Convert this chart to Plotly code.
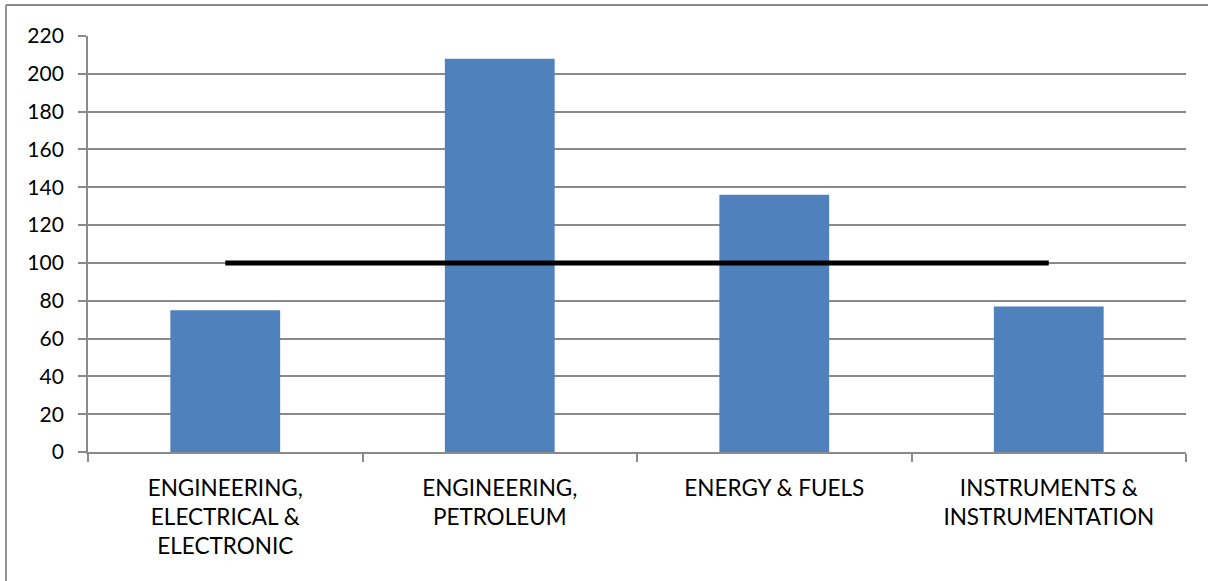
import plotly.graph_objects as go

categories = ["ENGINEERING,<br>ELECTRICAL &<br>ELECTRONIC", "ENGINEERING,<br>PETROLEUM",
              "ENERGY & FUELS", "INSTRUMENTS &<br>INSTRUMENTATION"]
values = [75, 208, 136, 77]
baseline = [100, 100, 100, 100]
y_ticks = [0, 20, 40, 60, 80, 100, 120, 140, 160, 180, 200, 220]

GRID = "#8a8a8a"
PW, PH = 1098, 416  # plot area size in px

fig = go.Figure()
fig.add_trace(go.Bar(x=categories, y=values, marker=dict(color="#4F81BD", line=dict(width=0)),
                     showlegend=False, hoverinfo="x+y"))
fig.add_trace(go.Scatter(x=categories, y=baseline, mode="lines",
                         line=dict(color="black", width=5), showlegend=False))

fig.update_layout(
    width=1208, height=581,
    margin=dict(l=88, r=22, t=36, b=129),
    paper_bgcolor="white", plot_bgcolor="white",
    bargap=0.6,
    font=dict(family="Lato, Noto Sans, sans-serif", size=22, color="black"),
    shapes=[
        dict(type="line", xref="paper", yref="paper", x0=-82 / PW, x1=1.2, y0=1 + 31 / PH, y1=1 + 31 / PH,
             line=dict(color=GRID, width=1.8)),
        dict(type="line", xref="paper", yref="paper", x0=-82 / PW, x1=-82 / PW, y0=1 + 31 / PH, y1=-1,
             line=dict(color=GRID, width=1.8)),
    ],
)
fig.update_xaxes(
    type="category", tickson="boundaries", ticks="outside", ticklen=8, tickcolor=GRID, tickwidth=1.8,
    showline=True, linecolor=GRID, linewidth=1.8, showgrid=False,
    tickfont=dict(size=22.5), ticklabelstandoff=15,
)
fig.update_yaxes(
    range=[0, 220], tickvals=y_ticks, ticks="outside", ticklen=8, tickcolor=GRID, tickwidth=1.8,
    showline=True, linecolor=GRID, linewidth=1.8,
    showgrid=True, gridcolor=GRID, gridwidth=1.8, zeroline=False,
    tickfont=dict(size=21), ticklabelstandoff=10,
)

fig.write_html("out.html", config={"displayModeBar": False},
               post_script="document.body.style.margin='0';document.body.style.overflow='hidden';")
